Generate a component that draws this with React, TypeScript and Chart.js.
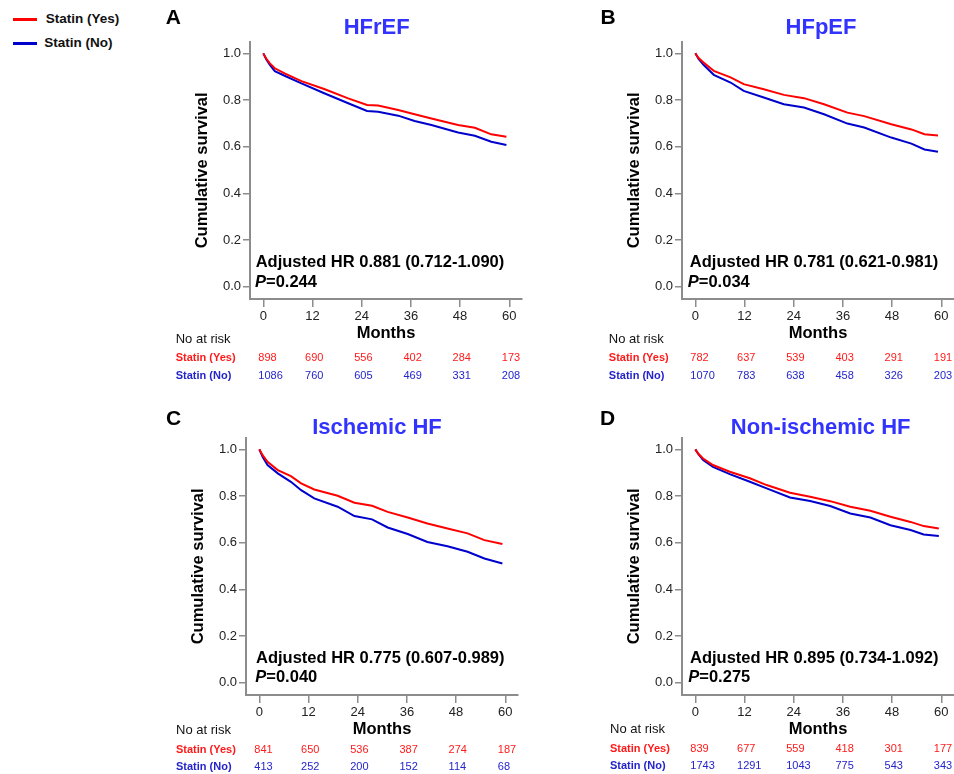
import React, { useEffect, useRef } from "react";
import { Chart, registerables } from "chart.js";

Chart.register(...registerables);

const FONT = '"Liberation Sans", Arial, Helvetica, sans-serif';
Chart.defaults.font.family = FONT;

// ---------- data ----------
const X_TICKS = [0, 12, 24, 36, 48, 60];
const Y_TICKS = [0, 0.2, 0.4, 0.6, 0.8, 1.0];
const SERIES_NAMES = ["Statin (Yes)", "Statin (No)"];
const PANEL_LETTERS = ["A", "B", "C", "D"];
const PANEL_TITLES = ["HFrEF", "HFpEF", "Ischemic HF", "Non-ischemic HF"];
const HR_TEXTS = [
  "Adjusted HR 0.881 (0.712-1.090)",
  "Adjusted HR 0.781 (0.621-0.981)",
  "Adjusted HR 0.775 (0.607-0.989)",
  "Adjusted HR 0.895 (0.734-1.092)",
];
const P_VALUES = ["=0.244", "=0.034", "=0.040", "=0.275"];
const RISK_HEADER = "No at risk";
const X_TITLE = "Months";
const Y_TITLE = "Cumulative survival";

const A_MONTHS = [0, 0.7, 1.6, 2.8, 5.2, 9.3, 15, 20.7, 25.3, 28, 32.9, 36.9, 41, 47.5, 51.6, 55.6, 59.3];
const A_YES = [1.0, 0.978, 0.957, 0.936, 0.914, 0.881, 0.846, 0.807, 0.779, 0.776, 0.757, 0.739, 0.721, 0.693, 0.681, 0.653, 0.643];
const A_NO = [1.0, 0.975, 0.95, 0.924, 0.904, 0.871, 0.828, 0.786, 0.753, 0.75, 0.733, 0.71, 0.693, 0.661, 0.647, 0.621, 0.607];

const B_MONTHS = [0, 0.8, 2.0, 4.5, 8.6, 11.8, 16.7, 21.6, 26.5, 31.4, 37.1, 41.2, 47.8, 52.7, 55.9, 59.2];
const B_YES = [1.0, 0.98, 0.961, 0.925, 0.897, 0.868, 0.846, 0.822, 0.808, 0.782, 0.746, 0.731, 0.696, 0.674, 0.653, 0.648];
const B_NO = [1.0, 0.976, 0.951, 0.908, 0.875, 0.839, 0.811, 0.782, 0.768, 0.739, 0.699, 0.682, 0.639, 0.613, 0.588, 0.578];

const C_MONTHS = [0, 0.8, 2.0, 4.5, 7.7, 10.2, 13.4, 19.1, 23.2, 27.5, 31.3, 36.2, 41.0, 45.9, 50.8, 54.9, 59.3];
const C_YES = [1.0, 0.975, 0.947, 0.911, 0.885, 0.854, 0.828, 0.801, 0.771, 0.758, 0.732, 0.708, 0.682, 0.661, 0.64, 0.611, 0.594];
const C_NO = [1.0, 0.968, 0.933, 0.897, 0.861, 0.825, 0.79, 0.754, 0.714, 0.7, 0.665, 0.637, 0.603, 0.585, 0.561, 0.532, 0.511];

const D_MONTHS = [0, 0.8, 1.9, 4.3, 8.4, 13.3, 17.4, 23.1, 28.0, 32.9, 37.8, 42.7, 47.6, 52.5, 55.7, 59.4];
const D_YES = [1.0, 0.98, 0.961, 0.933, 0.904, 0.876, 0.847, 0.814, 0.797, 0.778, 0.754, 0.737, 0.711, 0.689, 0.671, 0.661];
const D_NO = [1.0, 0.978, 0.954, 0.925, 0.894, 0.861, 0.833, 0.794, 0.779, 0.757, 0.725, 0.708, 0.675, 0.654, 0.635, 0.629];

const A_RISK_YES = [898, 690, 556, 402, 284, 173];
const A_RISK_NO = [1086, 760, 605, 469, 331, 208];
const B_RISK_YES = [782, 637, 539, 403, 291, 191];
const B_RISK_NO = [1070, 783, 638, 458, 326, 203];
const C_RISK_YES = [841, 650, 536, 387, 274, 187];
const C_RISK_NO = [413, 252, 200, 152, 114, 68];
const D_RISK_YES = [839, 677, 559, 418, 301, 177];
const D_RISK_NO = [1743, 1291, 1043, 775, 543, 343];

const PANEL_DATA = [
  { months: A_MONTHS, yes: A_YES, no: A_NO, riskYes: A_RISK_YES, riskNo: A_RISK_NO },
  { months: B_MONTHS, yes: B_YES, no: B_NO, riskYes: B_RISK_YES, riskNo: B_RISK_NO },
  { months: C_MONTHS, yes: C_YES, no: C_NO, riskYes: C_RISK_YES, riskNo: C_RISK_NO },
  { months: D_MONTHS, yes: D_YES, no: D_NO, riskYes: D_RISK_YES, riskNo: D_RISK_NO },
];

// ---------- layout & style ----------
const RED = "#ff0000";
const BLUE = "#0000cc";
const TABLE_RED = "#ff1a1a";
const TABLE_BLUE = "#2424cc";
const TITLE_BLUE = "#3333ff";
const AXIS_GREY = "#8c8c8c";

const CANVAS_W = 375;
const CANVAS_H = 390;

const LAYOUT = [
  { left: 150, top: 0, letterX: 15.7, letterY: 18.5, titleX: 226.7, titleY: 28.3, hrX: 105.7, pX: 105, hrY: 262, pY: 282.3, tableX: 25.7, tableY: [339, 358.3, 375.7] },
  { left: 581.5, top: 0, letterX: 18.5, letterY: 18.5, titleX: 239, titleY: 28.3, hrX: 107.8, pX: 105.8, hrY: 262, pY: 282.3, tableX: 26.8, tableY: [339, 358.3, 375.7] },
  { left: 145.7, top: 395.7, letterX: 20, letterY: 23.1, titleX: 231, titleY: 32, hrX: 110, pX: 109.3, hrY: 262, pY: 281.6, tableX: 30, tableY: [334.3, 353.6, 371] },
  { left: 582, top: 395.7, letterX: 18, letterY: 23.3, titleX: 238.7, titleY: 32, hrX: 108, pX: 106.3, hrY: 262, pY: 281.6, tableX: 28, tableY: [333.6, 353.3, 370.3] },
];

function makeTextPlugin(i: number) {
  return {
    id: "panelText" + i,
    afterDraw(chart: any) {
      const ctx = chart.ctx;
      const L = LAYOUT[i];
      const d = PANEL_DATA[i];
      const xs = chart.scales.x;
      ctx.save();
      ctx.textBaseline = "middle";

      // panel letter
      ctx.textAlign = "left";
      ctx.fillStyle = "#000";
      ctx.font = `bold 21px ${FONT}`;
      ctx.fillText(PANEL_LETTERS[i], L.letterX, L.letterY);

      // title
      ctx.textAlign = "center";
      ctx.fillStyle = TITLE_BLUE;
      ctx.font = `bold 22px ${FONT}`;
      ctx.fillText(PANEL_TITLES[i], L.titleX, L.titleY);

      // HR annotation
      ctx.textAlign = "left";
      ctx.fillStyle = "#000";
      ctx.font = `bold 16.5px ${FONT}`;
      ctx.fillText(HR_TEXTS[i], L.hrX, L.hrY);
      ctx.font = `italic bold 16.5px ${FONT}`;
      ctx.fillText("P", L.pX, L.pY);
      const pw = ctx.measureText("P").width;
      ctx.font = `bold 16.5px ${FONT}`;
      ctx.fillText(P_VALUES[i], L.pX + pw, L.pY);

      // risk table
      ctx.font = `13px ${FONT}`;
      ctx.fillStyle = "#111";
      ctx.fillText(RISK_HEADER, L.tableX, L.tableY[0]);
      ctx.font = `bold 11px ${FONT}`;
      ctx.fillStyle = TABLE_RED;
      ctx.fillText(SERIES_NAMES[0], L.tableX, L.tableY[1]);
      ctx.fillStyle = TABLE_BLUE;
      ctx.fillText(SERIES_NAMES[1], L.tableX, L.tableY[2]);
      ctx.font = `11px ${FONT}`;
      ctx.textAlign = "left";
      X_TICKS.forEach((t, k) => {
        const px = xs.getPixelForValue(t) - (k === 0 ? 5 : 7.5);
        ctx.fillStyle = TABLE_RED;
        ctx.fillText(String(d.riskYes[k]), px, L.tableY[1]);
        ctx.fillStyle = TABLE_BLUE;
        ctx.fillText(String(d.riskNo[k]), px, L.tableY[2]);
      });
      ctx.restore();
    },
  };
}

function Panel({ index }: { index: number }) {
  const ref = useRef<HTMLCanvasElement | null>(null);
  useEffect(() => {
    if (!ref.current) return;
    const d = PANEL_DATA[index];
    const chart = new Chart(ref.current, {
      type: "line",
      data: {
        datasets: [
          {
            label: SERIES_NAMES[0],
            data: d.months.map((m, k) => ({ x: m, y: d.yes[k] })),
            borderColor: RED,
            backgroundColor: RED,
            borderWidth: 2,
            pointRadius: 0,
            tension: 0,
            fill: false,
          },
          {
            label: SERIES_NAMES[1],
            data: d.months.map((m, k) => ({ x: m, y: d.no[k] })),
            borderColor: BLUE,
            backgroundColor: BLUE,
            borderWidth: 2,
            pointRadius: 0,
            tension: 0,
            fill: false,
          },
        ],
      },
      options: {
        animation: false,
        responsive: false,
        devicePixelRatio: 1,
        layout: { padding: { left: 43, top: 41.7, right: 3, bottom: 46.8 } },
        plugins: {
          legend: { display: false },
          title: { display: false },
          tooltip: { enabled: false },
        },
        scales: {
          x: {
            type: "linear",
            min: -3.25,
            max: 63.1,
            afterBuildTicks: (s: any) => {
              s.ticks = X_TICKS.map((v) => ({ value: v }));
            },
            afterFit: (s: any) => {
              s.height = 44.2;
            },
            grid: { drawOnChartArea: false, drawTicks: true, tickLength: 8, color: AXIS_GREY, lineWidth: 1.5 },
            border: { display: true, color: AXIS_GREY, width: 2 },
            ticks: {
              padding: 2,
              color: "#222",
              font: { size: 13 },
              maxRotation: 0,
              autoSkip: false,
              callback: (v: any) => String(v),
            },
            title: { display: true, text: X_TITLE, color: "#000", font: { size: 16.5, weight: "bold" }, padding: 0 },
          },
          y: {
            type: "linear",
            min: -0.053,
            max: 1.05,
            afterBuildTicks: (s: any) => {
              s.ticks = Y_TICKS.map((v) => ({ value: v }));
            },
            afterFit: (s: any) => {
              s.width = 57;
            },
            grid: { drawOnChartArea: false, drawTicks: true, tickLength: 7, color: AXIS_GREY, lineWidth: 1.5 },
            border: { display: true, color: AXIS_GREY, width: 2 },
            ticks: {
              padding: 2,
              color: "#222",
              font: { size: 13 },
              autoSkip: false,
              callback: (v: any) => Number(v).toFixed(1),
            },
            title: { display: true, text: Y_TITLE, color: "#000", font: { size: 16.5, weight: "bold" }, padding: 0 },
          },
        },
      },
      plugins: [makeTextPlugin(index)],
    } as any);
    return () => chart.destroy();
  }, [index]);
  const L = LAYOUT[index];
  return (
    <canvas
      ref={ref}
      width={CANVAS_W}
      height={CANVAS_H}
      style={{ position: "absolute", left: L.left, top: L.top, width: CANVAS_W, height: CANVAS_H }}
    />
  );
}

export default function App() {
  const legendText: React.CSSProperties = {
    position: "absolute",
    fontFamily: FONT,
    fontWeight: "bold",
    fontSize: 13.5,
    lineHeight: "16px",
    color: "#111",
    whiteSpace: "nowrap",
  };
  return (
    <div
      style={{
        position: "absolute",
        left: 0,
        top: 0,
        width: 954,
        height: 774,
        overflow: "hidden",
        background: "#fff",
      }}
    >
      <div style={{ position: "absolute", left: 12.7, top: 18, width: 24, height: 3, background: RED }} />
      <div style={{ ...legendText, left: 45.7, top: 11.3 }}>{SERIES_NAMES[0]}</div>
      <div style={{ position: "absolute", left: 12.7, top: 42, width: 24, height: 3, background: BLUE }} />
      <div style={{ ...legendText, left: 44.3, top: 35.3 }}>{SERIES_NAMES[1]}</div>
      {[0, 1, 2, 3].map((i) => (
        <Panel key={i} index={i} />
      ))}
    </div>
  );
}
